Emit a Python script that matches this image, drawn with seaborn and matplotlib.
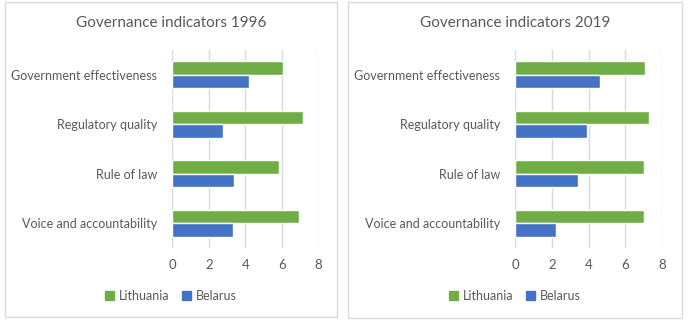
import pandas as pd
import matplotlib
matplotlib.use('Agg')
import matplotlib.pyplot as plt
import seaborn as sns
from matplotlib.patches import Rectangle, Patch

indicators = ['Government effectiveness', 'Regulatory quality', 'Rule of law', 'Voice and accountability']
countries = ['Lithuania', 'Belarus']
lithuania_1996 = [6.06, 7.16, 5.87, 6.95]
belarus_1996 = [4.23, 2.80, 3.38, 3.34]
lithuania_2019 = [7.07, 7.31, 7.04, 7.04]
belarus_2019 = [4.64, 3.91, 3.40, 2.20]
years = ['1996', '2019']
x_ticks = [0, 2, 4, 6, 8]

colors = {'Lithuania': '#70AD47', 'Belarus': '#4472C4'}
text_col = '#595959'

sns.set_style('white')
plt.rcParams['font.family'] = ['Lato', 'DejaVu Sans']

def make_df(lit, bel):
    rows = []
    for ind, v in zip(indicators, lit):
        rows.append({'indicator': ind, 'country': 'Lithuania', 'value': v})
    for ind, v in zip(indicators, bel):
        rows.append({'indicator': ind, 'country': 'Belarus', 'value': v})
    return pd.DataFrame(rows)

data = [make_df(lithuania_1996, belarus_1996), make_df(lithuania_2019, belarus_2019)]

fig = plt.figure(figsize=(6.9, 3.28), dpi=100)
W, H = 690, 328

# panel boxes (pixels): left, top, right, bottom
panels = [(5, 2, 337, 317), (348, 2, 682, 318)]
axes_px = [(172.3, 50, 318.3, 248), (515.3, 50, 662, 248)]

for i in range(2):
    pl, pt, pr, pb = panels[i]
    fig.add_artist(Rectangle((pl / W, 1 - pb / H), (pr - pl) / W, (pb - pt) / H,
                             transform=fig.transFigure, fill=False,
                             edgecolor='#D9D9D9', linewidth=1))
    al, at, ar, ab = axes_px[i]
    ax = fig.add_axes([al / W, 1 - ab / H, (ar - al) / W, (ab - at) / H])
    sns.barplot(data=data[i], x='value', y='indicator', hue='country',
                hue_order=countries, order=indicators, palette=colors,
                width=0.54, ax=ax, legend=False, saturation=1)
    ax.set_xlim(0, 8)
    ax.set_xticks(x_ticks)
    ax.grid(axis='x', color='#D9D9D9', linewidth=1)
    ax.set_axisbelow(True)
    for s in ax.spines.values():
        s.set_visible(False)
    ax.set_xlabel('')
    ax.set_ylabel('')
    ax.tick_params(axis='both', length=0, labelsize=9, colors=text_col)
    ax.tick_params(axis='y', pad=11)
    ax.tick_params(axis='x', pad=8, labelsize=9.5)
    cx = (pl + pr) / 2 / W
    fig.text(cx, 1 - 23 / H, 'Governance indicators ' + years[i], ha='center',
             va='center', fontsize=11, color=text_col)
    handles = [Patch(color=colors[c]) for c in countries]
    fig.legend(handles, countries, loc='center', bbox_to_anchor=(cx, 1 - 296 / H),
               ncol=2, frameon=False, fontsize=9, labelcolor=text_col,
               handlelength=0.7, handleheight=0.7, handletextpad=0.4,
               columnspacing=1.0)

fig.savefig('out.png', dpi=100)
